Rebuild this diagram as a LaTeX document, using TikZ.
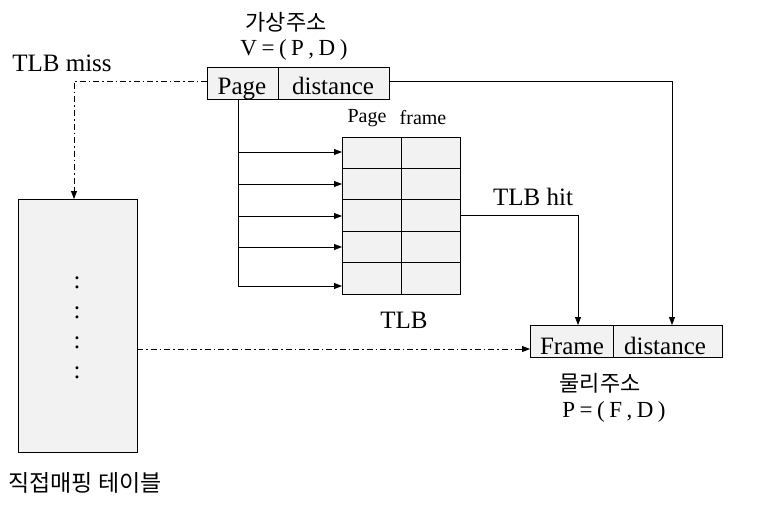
\documentclass[tikz,border=0pt]{standalone}
\usepackage{fontspec}
\setmainfont{Liberation Serif}
\newfontfamily\kr{Noto Sans CJK KR}
\usetikzlibrary{arrows.meta}
\definecolor{boxgray}{HTML}{F2F2F2}
\newcommand{\gp}{\hspace{4.5pt}}
\begin{document}
\begin{tikzpicture}[x=1pt,y=-1pt,
  cell/.style={draw, fill=boxgray, line width=0.8pt, inner sep=0pt, outer sep=0pt, anchor=north west},
  conn/.style={line width=0.8pt},
  tip/.style={-{Triangle[length=8pt,width=6pt]}},
  dashdot/.style={line width=0.8pt, dash pattern=on 6pt off 3pt on 1.5pt off 3pt},
  lbl/.style={inner sep=0pt, font=\fontsize{25}{28}\selectfont},
  eq/.style={inner sep=0pt, font=\fontsize{23}{26}\selectfont},
  small/.style={inner sep=0pt, font=\fontsize{20}{22}\selectfont},
  krl/.style={inner sep=0pt, font=\kr\fontsize{22}{24}\selectfont},
  boxtext/.style={inner sep=0pt, anchor=base, font=\fontsize{25}{28}\selectfont}]
\useasboundingbox (0,0) rectangle (770,508);

% virtual address
\node[cell, minimum width=71pt, minimum height=32pt] (vpage) at (207,67) {};
\node[cell, minimum width=111pt, minimum height=32pt] (vdist) at (278,67) {};
\node[boxtext] (tpage) at (242,95) {Page};
\node[boxtext] (tvdist) at (333,95) {distance};
\node[krl] (va) at (286,22) {가상주소};
\node[eq] (veq) at (294,50) {V\gp=\gp(\gp P\gp,\gp D\gp)};
\node[lbl] (miss) at (62,63) {TLB miss};

% TLB
\node[cell, minimum width=118pt, minimum height=157pt] (tlb) at (342,137) {};
\draw[conn] (401,137) -- (401,294);
\foreach \yy in {168.4,199.8,231.2,262.6} \draw[conn] (342,\yy) -- (460,\yy);
\node[small] (pg) at (367,118) {Page};
\node[small] (fr) at (423,118) {frame};
\node[lbl] (tlbl) at (404,320) {TLB};

% page line and arrows
\coordinate (pstart) at (238,99);
\coordinate (pend) at (238,286);
\draw[conn] (pstart) -- (pend);
\foreach \yy in {152,184,216,247,286} \draw[conn,tip] (238,\yy) -- (tlb.west |- 0,\yy);

% direct mapping table
\node[cell, minimum width=119pt, minimum height=253pt] (dmt) at (18,199) {};
\foreach \yy in {283,313,343,373} \node[lbl] at (77,\yy) {:};
\node[krl, font=\kr\fontsize{23}{25}\selectfont] (dmtl) at (85,483) {직접매핑 테이블};

% physical address
\node[cell, minimum width=83pt, minimum height=32pt] (pframe) at (530,325) {};
\node[cell, minimum width=109pt, minimum height=32pt] (pdist) at (613,325) {};
\node[boxtext] (tframe) at (572,354) {Frame};
\node[boxtext] (tpdist) at (665,354) {distance};
\node[krl] (pa) at (600,383) {물리주소};
\node[eq] (peq) at (614,412) {P\gp=\gp(\gp F\gp,\gp D\gp)};

% TLB hit
\node[lbl] (hit) at (533,197) {TLB hit};
\coordinate (hitc) at (578,215);
\draw[conn,tip] (tlb.east |- hitc) -- (hitc) -- (pframe.north -| hitc);

% distance
\coordinate (dc) at (672,81);
\draw[conn,tip] (vdist.east |- dc) -- (dc) -- (pdist.north -| dc);

% TLB miss path
\coordinate (mc) at (74,81);
\draw[dashdot] (vpage.west |- mc) -- (mc) -- (74,190);
\draw[tip, line width=0.8pt] (74,188) -- (dmt.north -| mc);

% table to physical
\coordinate (tc) at (137,349);
\draw[dashdot] (dmt.east |- tc) -- (518,349);
\draw[tip, line width=0.8pt] (516,349) -- (pframe.west |- tc);
\end{tikzpicture}
\end{document}
